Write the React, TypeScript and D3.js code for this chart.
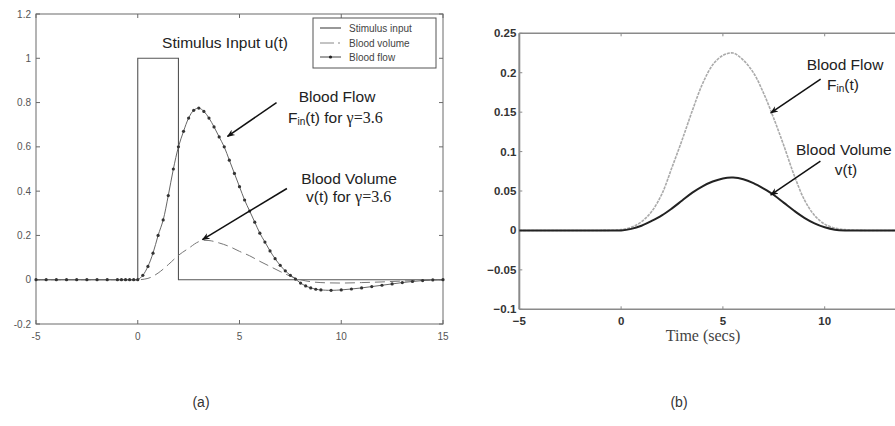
import React from 'react';
import * as d3 from 'd3';

// ---- panel (a) data ----
const stimTime = [-5, 0, 0, 2, 2, 15];
const stimValue = [0, 0, 1, 1, 0, 0];

const flowTime = [-5, -4.5, -4, -3.5, -3, -2.5, -2, -1.5, -1, -0.8, -0.6, -0.4, -0.2, 0,
  0.25, 0.5, 0.75, 1, 1.25, 1.5, 1.75, 2, 2.25, 2.5, 2.75, 3, 3.25, 3.5, 3.75, 4, 4.25, 4.5, 4.75,
  5, 5.25, 5.5, 5.75, 6, 6.25, 6.5, 6.75, 7, 7.25, 7.5, 7.75, 8, 8.25, 8.5, 8.75, 9, 9.5, 10,
  10.5, 11, 11.5, 12, 12.5, 13, 13.5, 14, 14.5, 15];
const flowValue = [0, 0, 0, 0, 0, 0, 0, 0, 0, 0, 0, 0, 0, 0,
  0.02, 0.06, 0.12, 0.2, 0.27, 0.38, 0.5, 0.6, 0.67, 0.73, 0.765, 0.775, 0.76, 0.73, 0.69, 0.645, 0.6, 0.54, 0.48,
  0.42, 0.36, 0.31, 0.26, 0.21, 0.17, 0.13, 0.095, 0.065, 0.04, 0.02, 0.003, -0.015, -0.028, -0.037, -0.043, -0.046, -0.048, -0.046,
  -0.042, -0.037, -0.031, -0.025, -0.019, -0.013, -0.008, -0.004, -0.001, 0];

const volTime = [-5, 0, 0.5, 1, 1.5, 2, 2.5, 3, 3.25, 3.5, 4, 4.5, 5, 5.5, 6, 6.5, 7, 7.5, 8, 8.5, 9, 10, 11, 12, 13, 14, 15];
const volValue = [0, 0, 0.006, 0.03, 0.068, 0.11, 0.142, 0.172, 0.178, 0.177, 0.166, 0.15, 0.128, 0.108, 0.083, 0.06, 0.037, 0.016, 0, -0.009, -0.013, -0.015, -0.013, -0.01, -0.006, -0.003, 0];

const aYTicks = [-0.2, 0, 0.2, 0.4, 0.6, 0.8, 1, 1.2];
const aXTicks = [-5, 0, 5, 10, 15];

// ---- panel (b) data ----
const bTime = [-5, -4, -3, -2, -1, 0, 0.5, 1, 1.5, 2, 2.5, 3, 3.5, 4, 4.5, 5, 5.5, 6, 6.5, 7, 7.5, 8, 8.5, 9, 9.5, 10, 10.5, 11, 12, 13, 14, 15];
const bFlow = [0, 0, 0, 0, 0, 0.001, 0.004, 0.011, 0.024, 0.046, 0.08, 0.115, 0.152, 0.186, 0.21, 0.222, 0.225, 0.216, 0.2, 0.174, 0.142, 0.107, 0.07, 0.039, 0.019, 0.008, 0.003, 0.001, 0, 0, 0, 0];
const bVolume = [0, 0, 0, 0, 0, 0, 0.002, 0.006, 0.012, 0.019, 0.028, 0.038, 0.048, 0.056, 0.062, 0.066, 0.067, 0.065, 0.06, 0.053, 0.045, 0.035, 0.025, 0.016, 0.009, 0.004, 0.001, 0, 0, 0, 0, 0];

const bYTicks = [-0.1, -0.05, 0, 0.05, 0.1, 0.15, 0.2, 0.25];
const bYLabels = ['\u22120.1', '\u22120.05', '0', '0.05', '0.1', '0.15', '0.2', '0.25'];
const bXTicks = [-5, 0, 5, 10];
const bXLabels = ['\u22125', '0', '5', '10'];

const sans = '"Liberation Sans", Arial, sans-serif';
const serif = '"Liberation Serif", "Times New Roman", serif';

export default function App() {
  const xA = d3.scaleLinear().domain([-5, 15]).range([36, 443]);
  const yA = d3.scaleLinear().domain([-0.2, 1.2]).range([324, 14]);
  const xB = d3.scaleLinear().domain([-5, 15]).range([519.3, 926.5]);
  const yB = d3.scaleLinear().domain([-0.1, 0.25]).range([309.3, 33.3]);

  const stimPath = d3.line<number>()
    .x((_, i) => xA(stimTime[i]))
    .y(d => yA(d))(stimValue);
  const flowPath = d3.line<number>()
    .x((_, i) => xA(flowTime[i]))
    .y(d => yA(d))
    .curve(d3.curveCatmullRom)(flowValue);
  const volPath = d3.line<number>()
    .x((_, i) => xA(volTime[i]))
    .y(d => yA(d))
    .curve(d3.curveMonotoneX)(volValue);

  const bFlowPath = d3.line<number>()
    .x((_, i) => xB(bTime[i]))
    .y(d => yB(d))
    .curve(d3.curveCatmullRom)(bFlow);
  const bVolPath = d3.line<number>()
    .x((_, i) => xB(bTime[i]))
    .y(d => yB(d))
    .curve(d3.curveCatmullRom)(bVolume);

  const axisA = '#6a6a6a';
  const axisB = '#8a8a8a';

  return (
    <svg width={895} height={426} style={{ position: 'absolute', left: 0, top: 0, background: '#fff' }}>
      <defs>
        <marker id="ah" viewBox="0 0 10 10" refX="9" refY="5" markerWidth="8" markerHeight="8" orient="auto" markerUnits="userSpaceOnUse">
          <path d="M0,1 L10,5 L0,9 L3,5 Z" fill="#111" />
        </marker>
        <clipPath id="clipB">
          <rect x={519} y={20} width={376} height={300} />
        </clipPath>
      </defs>

      {/* ===== panel (a) ===== */}
      <rect x={xA(-5)} y={yA(1.2)} width={xA(15) - xA(-5)} height={yA(-0.2) - yA(1.2)} fill="none" stroke={axisA} strokeWidth={1} />
      {aXTicks.map(t => (
        <g key={'ax' + t}>
          <line x1={xA(t)} x2={xA(t)} y1={yA(-0.2)} y2={yA(-0.2) - 4} stroke={axisA} />
          <line x1={xA(t)} x2={xA(t)} y1={yA(1.2)} y2={yA(1.2) + 4} stroke={axisA} />
          <text x={xA(t)} y={yA(-0.2) + 16} textAnchor="middle" fontFamily={sans} fontSize={10} fill="#555">{t}</text>
        </g>
      ))}
      {aYTicks.map(v => (
        <g key={'ay' + v}>
          <line x1={xA(-5)} x2={xA(-5) + 4} y1={yA(v)} y2={yA(v)} stroke={axisA} />
          <line x1={xA(15)} x2={xA(15) - 4} y1={yA(v)} y2={yA(v)} stroke={axisA} />
          <text x={xA(-5) - 5} y={yA(v) + 3.5} textAnchor="end" fontFamily={sans} fontSize={10} fill="#555">{v}</text>
        </g>
      ))}

      <path d={stimPath || ''} fill="none" stroke="#555" strokeWidth={1.1} />
      <path d={volPath || ''} fill="none" stroke="#777" strokeWidth={1} strokeDasharray="10,5" />
      <path d={flowPath || ''} fill="none" stroke="#666" strokeWidth={1} />
      {flowValue.map((v, i) => (
        <circle key={'fd' + i} cx={xA(flowTime[i])} cy={yA(v)} r={1.6} fill="#333" />
      ))}

      {/* legend */}
      <rect x={313} y={18} width={123} height={50} fill="#fff" stroke="#555" strokeWidth={1} />
      <line x1={320} x2={341} y1={28} y2={28} stroke="#444" strokeWidth={1.1} />
      <line x1={320} x2={334} y1={43} y2={43} stroke="#888" strokeWidth={1} />
      <line x1={338} x2={340} y1={43} y2={43} stroke="#888" strokeWidth={1} />
      <line x1={320} x2={341} y1={57} y2={57} stroke="#444" strokeWidth={1} />
      <circle cx={330.5} cy={57} r={1.6} fill="#222" />
      <text x={349} y={31.5} fontFamily={sans} fontSize={10} fill="#444">Stimulus input</text>
      <text x={349} y={46.5} fontFamily={sans} fontSize={10} fill="#444">Blood volume</text>
      <text x={349} y={60.5} fontFamily={sans} fontSize={10} fill="#444">Blood flow</text>

      {/* annotations (a) */}
      <text x={225} y={48} textAnchor="middle" fontFamily={sans} fontSize={15.5} fill="#222">Stimulus Input u(t)</text>
      <text x={337} y={102} textAnchor="middle" fontFamily={sans} fontSize={15.5} fill="#222">Blood Flow</text>
      <text x={288} y={123} fontFamily={sans} fontSize={15.5} fill="#222">
        F<tspan fontSize={10} dy={2}>in</tspan><tspan dy={-2}>(t) for </tspan><tspan fontFamily={serif} fontSize={16}>γ=3.6</tspan>
      </text>
      <line x1={xA(6.82)} y1={yA(0.8)} x2={xA(4.41)} y2={yA(0.647)} stroke="#111" strokeWidth={1.5} markerEnd="url(#ah)" />
      <text x={349} y={184} textAnchor="middle" fontFamily={sans} fontSize={15.5} fill="#222">Blood Volume</text>
      <text x={306} y={202} fontFamily={sans} fontSize={15.5} fill="#222">
        v(t) for <tspan fontFamily={serif} fontSize={16}>γ=3.6</tspan>
      </text>
      <line x1={xA(7.33)} y1={yA(0.412)} x2={xA(3.18)} y2={yA(0.181)} stroke="#111" strokeWidth={1.5} markerEnd="url(#ah)" />

      <text x={201} y={407} textAnchor="middle" fontFamily={sans} fontSize={14} fill="#333">(a)</text>

      {/* ===== panel (b) ===== */}
      <line x1={xB(-5)} x2={895} y1={yB(0.25)} y2={yB(0.25)} stroke={axisB} strokeWidth={1.5} />
      <line x1={xB(-5)} x2={895} y1={yB(-0.1)} y2={yB(-0.1)} stroke={axisB} strokeWidth={1.5} />
      <line x1={xB(-5)} x2={xB(-5)} y1={yB(0.25)} y2={yB(-0.1)} stroke={axisB} strokeWidth={2} />
      {bXTicks.map((t, i) => (
        <g key={'bx' + t}>
          <line x1={xB(t)} x2={xB(t)} y1={yB(-0.1)} y2={yB(-0.1) - 3} stroke={axisB} />
          <line x1={xB(t)} x2={xB(t)} y1={yB(0.25)} y2={yB(0.25) + 3} stroke={axisB} />
          <text x={xB(t)} y={yB(-0.1) + 16} textAnchor="middle" fontFamily={sans} fontWeight="bold" fontSize={11.5} fill="#333">{bXLabels[i]}</text>
        </g>
      ))}
      {bYTicks.map((v, i) => (
        <g key={'by' + v}>
          <line x1={xB(-5)} x2={xB(-5) + 3} y1={yB(v)} y2={yB(v)} stroke={axisB} />
          <text x={xB(-5) - 3} y={yB(v) + 4} textAnchor="end" fontFamily={sans} fontWeight="bold" fontSize={11.5} fill="#333">{bYLabels[i]}</text>
        </g>
      ))}
      <text x={703} y={341} textAnchor="middle" fontFamily={serif} fontSize={16} fill="#444">Time (secs)</text>

      <g clipPath="url(#clipB)">
        <path d={bFlowPath || ''} fill="none" stroke="#aaa" strokeWidth={1.6} strokeDasharray="3,1" />
        <path d={bVolPath || ''} fill="none" stroke="#222" strokeWidth={2} />
      </g>

      {/* annotations (b) */}
      <text x={845} y={70} textAnchor="middle" fontFamily={sans} fontSize={15.5} fill="#222">Blood Flow</text>
      <text x={827} y={90} fontFamily={sans} fontSize={15.5} fill="#222">
        F<tspan fontSize={10} dy={2}>in</tspan><tspan dy={-2}>(t)</tspan>
      </text>
      <line x1={xB(9.8)} y1={yB(0.192)} x2={xB(7.35)} y2={yB(0.149)} stroke="#111" strokeWidth={1.5} markerEnd="url(#ah)" />
      <text x={796} y={155} fontFamily={sans} fontSize={15.5} fill="#222">Blood Volume</text>
      <text x={846} y={175} textAnchor="middle" fontFamily={sans} fontSize={15.5} fill="#222">v(t)</text>
      <line x1={xB(9.79)} y1={yB(0.088)} x2={xB(7.35)} y2={yB(0.045)} stroke="#111" strokeWidth={1.5} markerEnd="url(#ah)" />

      <text x={679} y={407} textAnchor="middle" fontFamily={sans} fontSize={14} fill="#333">(b)</text>
    </svg>
  );
}
